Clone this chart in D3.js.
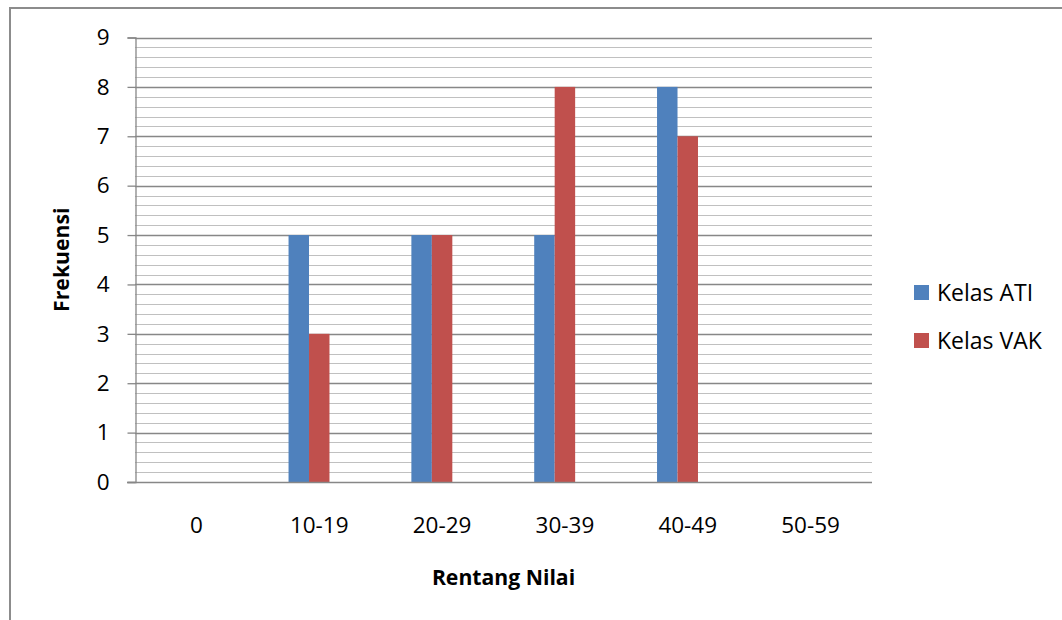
<!DOCTYPE html>
<html>
<head>
<meta charset="utf-8">
<script src="https://cdn.jsdelivr.net/npm/d3@7/dist/d3.min.js"></script>
<style>
  html, body { margin: 0; padding: 0; background: #fff; }
  svg { display: block; }
  text { font-family: "Open Sans", "Noto Sans", sans-serif; fill: #000; }
</style>
</head>
<body>
<svg id="chart" width="1062" height="620"></svg>
<script>
// Frequency distribution of scores for the two classes
const categories = ["0", "10-19", "20-29", "30-39", "40-49", "50-59"];
const seriesNames = ["Kelas ATI", "Kelas VAK"];
const kelasATI = [0, 5, 5, 5, 8, 0];
const kelasVAK = [0, 3, 5, 8, 7, 0];
const yTicks = [0, 1, 2, 3, 4, 5, 6, 7, 8, 9];
const seriesValues = [kelasATI, kelasVAK];
const seriesColors = ["#4F81BD", "#C0504D"];

const svg = d3.select("#chart");

// outer chart frame
svg.append("rect")
  .attr("x", 10).attr("y", 8)
  .attr("width", 1100).attr("height", 700)
  .attr("fill", "none")
  .attr("stroke", "#8c8c8c")
  .attr("stroke-width", 2);

const plot = { left: 135, right: 872, top: 37.5, bottom: 482 };

const x0 = d3.scaleBand()
  .domain(categories)
  .range([plot.left, plot.right])
  .paddingInner(0).paddingOuter(0);

// three bar slots per category (gap width 100%), series fill the first two
const x1 = d3.scaleBand()
  .domain(d3.range(3))
  .range([0, x0.bandwidth()])
  .paddingInner(0).paddingOuter(1.5);

const y = d3.scaleLinear().domain([0, 9]).range([plot.bottom, plot.top]);

// minor gridlines every 0.2
const minor = d3.range(0, 9.0001, 0.2).filter(v => Math.abs(v - Math.round(v)) > 1e-6);
svg.append("g").selectAll("line")
  .data(minor)
  .join("line")
  .attr("x1", plot.left).attr("x2", plot.right)
  .attr("y1", d => Math.round(y(d)) + 0.5)
  .attr("y2", d => Math.round(y(d)) + 0.5)
  .attr("stroke", "#c0c0c0")
  .attr("stroke-width", 1.2);

// major gridlines
svg.append("g").selectAll("line")
  .data(yTicks.filter(d => d > 0))
  .join("line")
  .attr("x1", plot.left).attr("x2", plot.right)
  .attr("y1", d => Math.round(y(d)) + 0.5)
  .attr("y2", d => Math.round(y(d)) + 0.5)
  .attr("stroke", "#878787")
  .attr("stroke-width", 1.3);

// bars
const barData = [];
categories.forEach((c, i) => {
  seriesValues.forEach((vals, s) => {
    barData.push({ cat: c, s: s, v: vals[i] });
  });
});
svg.append("g").selectAll("rect")
  .data(barData.filter(d => d.v > 0))
  .join("rect")
  .attr("x", d => x0(d.cat) + x1(d.s))
  .attr("y", d => y(d.v))
  .attr("width", x1.bandwidth())
  .attr("height", d => y(0) - y(d.v))
  .attr("fill", d => seriesColors[d.s]);

// y axis
const yAxis = svg.append("g")
  .attr("transform", `translate(${plot.left + 0.5},0)`)
  .call(d3.axisLeft(y).tickValues(yTicks).tickFormat(d3.format("d")).tickSize(8).tickPadding(18));
yAxis.select(".domain").attr("stroke", "#878787").attr("stroke-width", 1.3);
yAxis.selectAll(".tick line").attr("stroke", "#878787").attr("stroke-width", 1.3);
yAxis.selectAll(".tick text")
  .style("font-family", "'Open Sans', sans-serif")
  .style("font-size", "22.5px")
  .attr("fill", "#000");

// x axis baseline
svg.append("line")
  .attr("x1", plot.left - 8).attr("x2", plot.right)
  .attr("y1", Math.round(y(0)) + 0.5).attr("y2", Math.round(y(0)) + 0.5)
  .attr("stroke", "#878787").attr("stroke-width", 1.3);

// x category labels
svg.append("g").selectAll("text")
  .data(categories)
  .join("text")
  .attr("x", d => x0(d) + x0.bandwidth() / 2)
  .attr("y", 525)
  .attr("dy", "0.35em")
  .attr("text-anchor", "middle")
  .style("font-size", "22.5px")
  .text(d => d);

// axis titles
svg.append("text")
  .attr("x", (plot.left + plot.right) / 2)
  .attr("y", 578)
  .attr("dy", "0.35em")
  .attr("text-anchor", "middle")
  .style("font-size", "21.2px")
  .style("font-weight", "bold")
  .text("Rentang Nilai");

svg.append("text")
  .attr("transform", `translate(62,${(plot.top + plot.bottom) / 2}) rotate(-90)`)
  .attr("dy", "0.35em")
  .attr("text-anchor", "middle")
  .style("font-size", "21.2px")
  .style("font-weight", "bold")
  .text("Frekuensi");

// legend
const legend = svg.append("g").selectAll("g")
  .data(seriesNames)
  .join("g")
  .attr("transform", (d, i) => `translate(914,${285 + i * 48})`);
legend.append("rect")
  .attr("width", 15).attr("height", 15)
  .attr("fill", (d, i) => seriesColors[i]);
legend.append("text")
  .attr("x", 23).attr("y", 7.5)
  .attr("dy", "0.35em")
  .style("font-size", "23px")
  .text(d => d);
</script>
</body>
</html>
